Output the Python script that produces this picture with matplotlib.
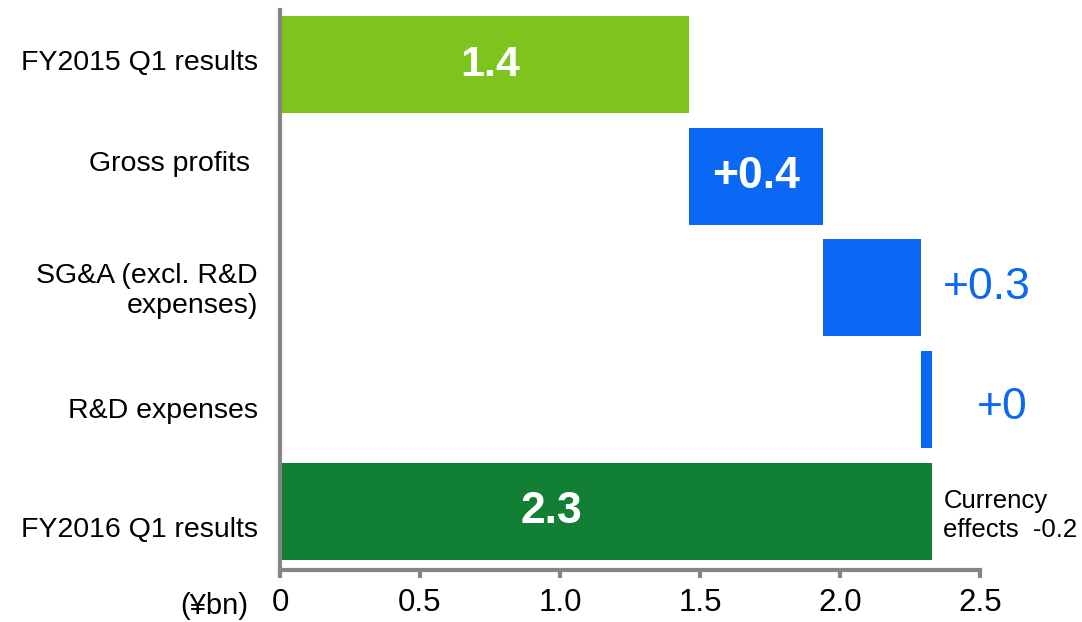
import matplotlib
matplotlib.use("Agg")
import matplotlib.pyplot as plt
import matplotlib.transforms as mtransforms

plt.rcParams['font.family'] = ['Liberation Sans', 'DejaVu Sans']

categories = ["FY2015 Q1 results", "Gross profits ", "SG&A (excl. R&D\nexpenses)",
              "R&D expenses", "FY2016 Q1 results"]
starts = [0.0, 1.46, 1.94, 2.29, 0.0]
widths = [1.46, 0.48, 0.35, 0.04, 2.33]
labels = ["1.4", "+0.4", "+0.3", "+0", "2.3"]
ticks = [0, 0.5, 1.0, 1.5, 2.0, 2.5]
tick_labels = ["0", "0.5", "1.0", "1.5", "2.0", "2.5"]
note = "Currency\neffects  -0.2"

light_green = "#7dc41e"
dark_green = "#117f34"
blue = "#0a68f5"
grey = "#858585"
colors = [light_green, blue, blue, blue, dark_green]

fig = plt.figure(figsize=(10.82, 6.22), dpi=100)
ax = fig.add_axes([0.2588, 0.083, 0.6468, 0.901])

ypos = list(range(len(categories)))
ax.barh(ypos, widths, left=starts, height=0.87, color=colors)

ax.set_xlim(0, 2.5)
ax.set_ylim(4.53, -0.49)

# bar labels: totals and first step inside, the small steps outside in blue
ax.text(0.75, 0, labels[0], color="white", fontsize=31, fontweight="bold",
        ha="center", va="center")
ax.text(starts[1] + widths[1] / 2, 1, labels[1], color="white", fontsize=32,
        fontweight="bold", ha="center", va="center")
ax.text(2.525, 2, labels[2], color=blue, fontsize=32, ha="center", va="center")
ax.text(2.58, 3.07, labels[3], color=blue, fontsize=32, ha="center", va="center")
ax.text(0.97, 4, labels[4], color="white", fontsize=32, fontweight="bold",
        ha="center", va="center")
ax.text(2.37, 4.04, note, color="black", fontsize=18.5, ha="left", va="center",
        linespacing=1.28)

ax.set_yticks(ypos)
ax.set_yticklabels(categories, fontsize=20.5, ha="right")
ax.tick_params(axis="y", length=0, pad=16)
# category labels sit a little off the bar centres in the original
shifts = [5, 15, 2, -8, -16]
for lab, dy in zip(ax.get_yticklabels(), shifts):
    lab.set_transform(lab.get_transform() +
                      mtransforms.ScaledTranslation(0, dy / 100, fig.dpi_scale_trans))

ax.set_xticks(ticks)
ax.set_xticklabels(tick_labels, fontsize=22.5)
ax.tick_params(axis="x", direction="out", length=6, width=3, color=grey, pad=7)

for side in ["top", "right"]:
    ax.spines[side].set_visible(False)
for side in ["left", "bottom"]:
    ax.spines[side].set_color(grey)
    ax.spines[side].set_linewidth(3)

fig.text(214 / 1082, 1 - 606 / 622, "(¥bn)", fontsize=21, ha="center", va="center")

fig.savefig("out.png", dpi=100)
